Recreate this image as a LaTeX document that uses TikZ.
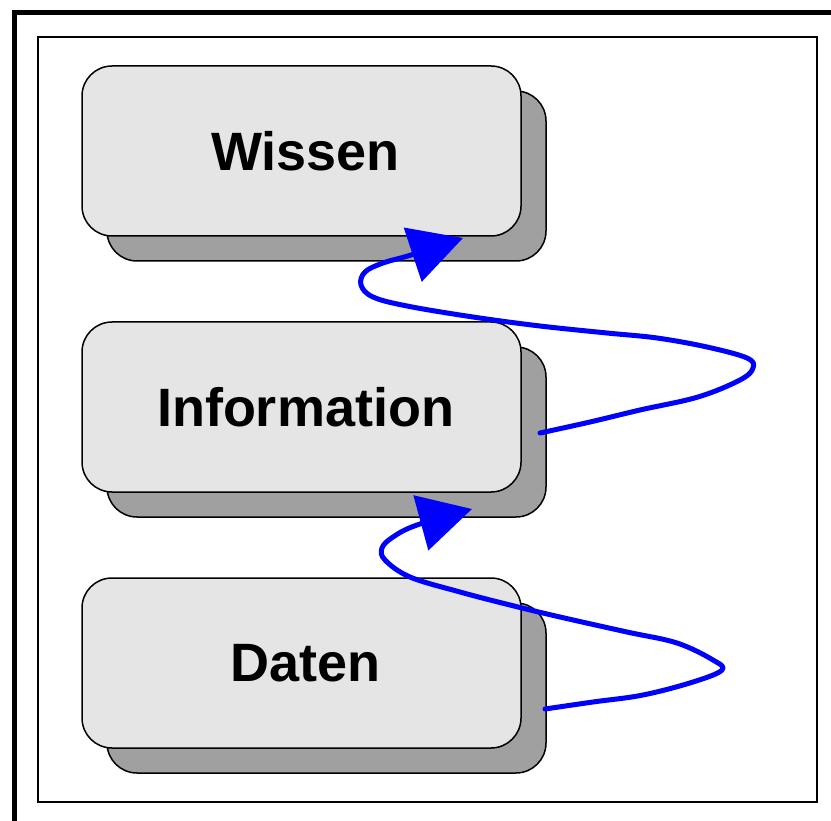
\documentclass[tikz,border=0pt]{standalone}
\usepackage{fontspec}
\setmainfont{Liberation Sans}
\usetikzlibrary{arrows.meta,shadows}
\definecolor{kastengrau}{RGB}{229,229,229}
\definecolor{schattengrau}{RGB}{160,160,160}

\begin{document}
\begin{tikzpicture}[x=1pt,y=-1pt,
    kasten/.style={rounded corners=30pt,draw,line width=1.5pt,fill=kastengrau,
        minimum width=439pt,minimum height=170pt,inner sep=0pt,
        font=\fontsize{54}{60}\selectfont\bfseries,
        drop shadow={shadow xshift=25pt,shadow yshift=-25pt,
            fill=schattengrau,draw=black,opacity=1}},
    kringel/.style={draw=blue,line width=5pt,line join=round,line cap=round,
        -{Triangle[length=53pt,width=56pt]}}]
        \useasboundingbox (0,0) rectangle (831,821);
        \draw[line width=5pt] (14,821) |- (831,13);
        \draw[line width=1.5pt] (38,37) rectangle (817,802);
        \foreach \n/\y/\l in{
        wissen/151/Wissen,
        info/407/Information,
        daten/663/Daten
        }
        {
            \node[kasten] (\n) at (301.5,\y) {\hspace*{8pt}\l};
        }
        \coordinate (d1) at (545,709);
        \coordinate (d2) at (472,509);
        \coordinate (i1) at (540,433);
        \coordinate (i2) at (463,238);
        \draw[kringel] plot[smooth,tension=0.6] coordinates {
            (d1) (593,702) (643,695) (693,682) (722,670) (713,660) (677,643)
            (627,632) (560,617) (510,605) (460,592) (410,577) (385,560)
            (382,548) (393,537) (417,525) (d2)};
        \draw[kringel] plot[smooth,tension=0.6] coordinates {
            (i1) (590,422) (640,410) (698,397) (740,380) (753,368) (747,358)
            (707,347) (657,338) (607,333) (540,326) (473,317) (407,306)
            (373,297) (361,285) (365,272) (383,263) (411,255) (i2)};
    \end{tikzpicture}
\end{document}
